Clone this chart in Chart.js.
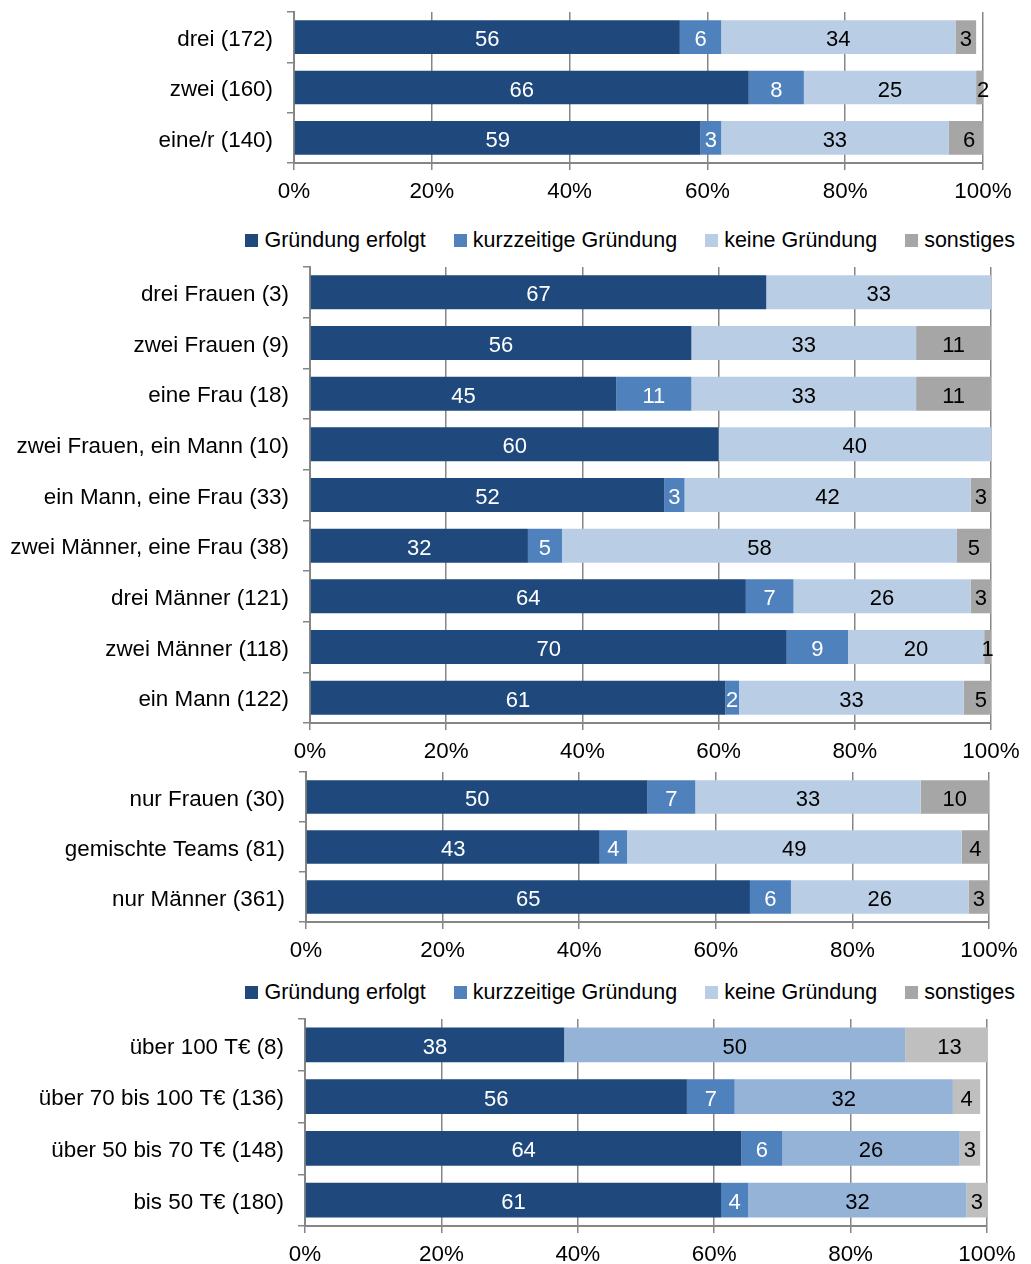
<!DOCTYPE html>
<html lang="de">
<head>
<meta charset="utf-8">
<title>Gründungserfolg nach Teamzusammensetzung und Kapitalbedarf</title>
<script src="https://cdn.jsdelivr.net/npm/chart.js@4/dist/chart.umd.min.js"></script>
<style>
  html, body { margin: 0; padding: 0; background: #ffffff; }
  body { position: relative; width: 1031px; height: 1264px; overflow: hidden;
         font-family: "Liberation Sans", Arial, sans-serif; }
  canvas { position: absolute; left: 0; }
  .legend { position: absolute; right: 16px; height: 26px; display: flex;
            justify-content: flex-end; align-items: center; gap: 28px;
            font-size: 21.5px; color: #000; white-space: nowrap; }
  .legend .item { display: flex; align-items: center; }
  .legend .box { width: 13px; height: 13px; margin-right: 6px; }
</style>
</head>
<body>
<canvas id="chartSize"></canvas>
<div class="legend" id="legend1" style="top:227px"></div>
<canvas id="chartTeam"></canvas>
<canvas id="chartGender"></canvas>
<div class="legend" id="legend2" style="top:979px"></div>
<canvas id="chartCapital"></canvas>

<script>
// Outcome categories (stack order, left to right)
const seriesNames = ['Gründung erfolgt', 'kurzzeitige Gründung', 'keine Gründung', 'sonstiges'];

// Team size
const sizeLabels   = ['drei (172)', 'zwei (160)', 'eine/r (140)'];
const sizeErfolgt  = [56, 66, 59];
const sizeKurz     = [6, 8, 3];
const sizeKeine    = [34, 25, 33];
const sizeSonst    = [3, 2, 6];

// Team composition
const teamLabels   = ['drei Frauen (3)', 'zwei Frauen (9)', 'eine Frau (18)',
                      'zwei Frauen, ein Mann (10)', 'ein Mann, eine Frau (33)',
                      'zwei Männer, eine Frau (38)', 'drei Männer (121)',
                      'zwei Männer (118)', 'ein Mann (122)'];
const teamErfolgt  = [67, 56, 45, 60, 52, 32, 64, 70, 61];
const teamKurz     = [0, 0, 11, 0, 3, 5, 7, 9, 2];
const teamKeine    = [33, 33, 33, 40, 42, 58, 26, 20, 33];
const teamSonst    = [0, 11, 11, 0, 3, 5, 3, 1, 5];

// Gender mix
const genderLabels  = ['nur Frauen (30)', 'gemischte Teams (81)', 'nur Männer (361)'];
const genderErfolgt = [50, 43, 65];
const genderKurz    = [7, 4, 6];
const genderKeine   = [33, 49, 26];
const genderSonst   = [10, 4, 3];

// Capital requirement
const capitalLabels  = ['über 100 T€ (8)', 'über 70 bis 100 T€ (136)',
                        'über 50 bis 70 T€ (148)', 'bis 50 T€ (180)'];
const capitalErfolgt = [38, 56, 64, 61];
const capitalKurz    = [0, 7, 6, 4];
const capitalKeine   = [50, 32, 26, 32];
const capitalSonst   = [13, 4, 3, 3];

// Percentage axis
const xMin = 0, xMax = 100, xStep = 20;

const FONT = '"Liberation Sans", Arial, sans-serif';
const AXIS_GREY = '#868686';
const W = 1031;

const paletteMain    = ['#1f497d', '#4f81bd', '#b9cde5', '#a6a6a6'];
const paletteCapital = ['#1f497d', '#4f81bd', '#95b3d7', '#bfbfbf'];
const labelInk       = ['#ffffff', '#ffffff', '#000000', '#000000'];

// Writes each segment's value centred inside the segment
const segmentLabels = {
  id: 'segmentLabels',
  afterDatasetsDraw(chart) {
    const ctx = chart.ctx;
    ctx.save();
    ctx.font = '22px ' + FONT;
    ctx.textAlign = 'center';
    ctx.textBaseline = 'middle';
    chart.data.datasets.forEach((ds, i) => {
      const meta = chart.getDatasetMeta(i);
      if (meta.hidden) return;
      meta.data.forEach((bar, j) => {
        const v = ds.data[j];
        if (!v) return;
        const p = bar.getCenterPoint();
        ctx.fillStyle = ds.labelColor;
        ctx.fillText(String(v), p.x, p.y + 3);
      });
    });
    ctx.restore();
  }
};

function makePanel(canvasId, box, labels, series, palette) {
  const canvas = document.getElementById(canvasId);
  const pad = 8;
  const top = box.top - pad;
  const height = box.bottom - top + 42;
  canvas.width = W;
  canvas.height = height;
  canvas.style.top = top + 'px';
  canvas.style.width = W + 'px';
  canvas.style.height = height + 'px';

  const datasets = series.map((data, i) => ({
    label: seriesNames[i],
    data: data,
    backgroundColor: palette[i],
    borderWidth: 0,
    labelColor: labelInk[i],
    barPercentage: 0.67,
    categoryPercentage: 1.0
  }));

  return new Chart(canvas, {
    type: 'bar',
    data: { labels: labels, datasets: datasets },
    plugins: [segmentLabels],
    options: {
      indexAxis: 'y',
      responsive: false,
      animation: false,
      devicePixelRatio: 1,
      layout: { padding: { top: pad, left: 0, right: W - box.right, bottom: 0 } },
      plugins: { legend: { display: false }, tooltip: { enabled: false } },
      scales: {
        x: {
          stacked: true,
          min: xMin, max: xMax,
          afterFit: s => { s.height = 42; s.paddingLeft = 0; s.paddingRight = 0; },
          ticks: { stepSize: xStep, callback: v => v + '%', color: '#000',
                   font: { family: FONT, size: 22.4 }, padding: 8, maxRotation: 0 },
          grid: { color: AXIS_GREY, lineWidth: 1.5, tickLength: 7, drawOnChartArea: true },
          border: { color: AXIS_GREY, width: 2 }
        },
        y: {
          stacked: true,
          afterFit: s => { s.width = box.left; s.paddingTop = 0; s.paddingBottom = 0; },
          ticks: { color: '#000', font: { family: FONT, size: 22.4 }, padding: 14,
                   labelOffset: 2.5 },
          grid: { offset: true, drawOnChartArea: false, color: AXIS_GREY,
                  lineWidth: 1.5, tickLength: 7 },
          border: { color: AXIS_GREY, width: 2 }
        }
      }
    }
  });
}

const chartSize = makePanel('chartSize', { top: 12, bottom: 163, left: 294, right: 983 },
  sizeLabels, [sizeErfolgt, sizeKurz, sizeKeine, sizeSonst], paletteMain);

const chartTeam = makePanel('chartTeam', { top: 267, bottom: 723, left: 310, right: 991 },
  teamLabels, [teamErfolgt, teamKurz, teamKeine, teamSonst], paletteMain);

const chartGender = makePanel('chartGender', { top: 772, bottom: 922, left: 306, right: 989 },
  genderLabels, [genderErfolgt, genderKurz, genderKeine, genderSonst], paletteMain);

const chartCapital = makePanel('chartCapital', { top: 1019, bottom: 1226, left: 305, right: 987 },
  capitalLabels, [capitalErfolgt, capitalKurz, capitalKeine, capitalSonst], paletteCapital);

// Legend rows built from the charts' own legend items
function buildLegend(targetId, chart) {
  const el = document.getElementById(targetId);
  const items = chart.options.plugins.legend.labels.generateLabels(chart);
  items.forEach(it => {
    const item = document.createElement('div');
    item.className = 'item';
    const sw = document.createElement('span');
    sw.className = 'box';
    sw.style.background = it.fillStyle;
    const tx = document.createElement('span');
    tx.textContent = it.text;
    item.appendChild(sw);
    item.appendChild(tx);
    el.appendChild(item);
  });
}
buildLegend('legend1', chartSize);
buildLegend('legend2', chartGender);
</script>
</body>
</html>
